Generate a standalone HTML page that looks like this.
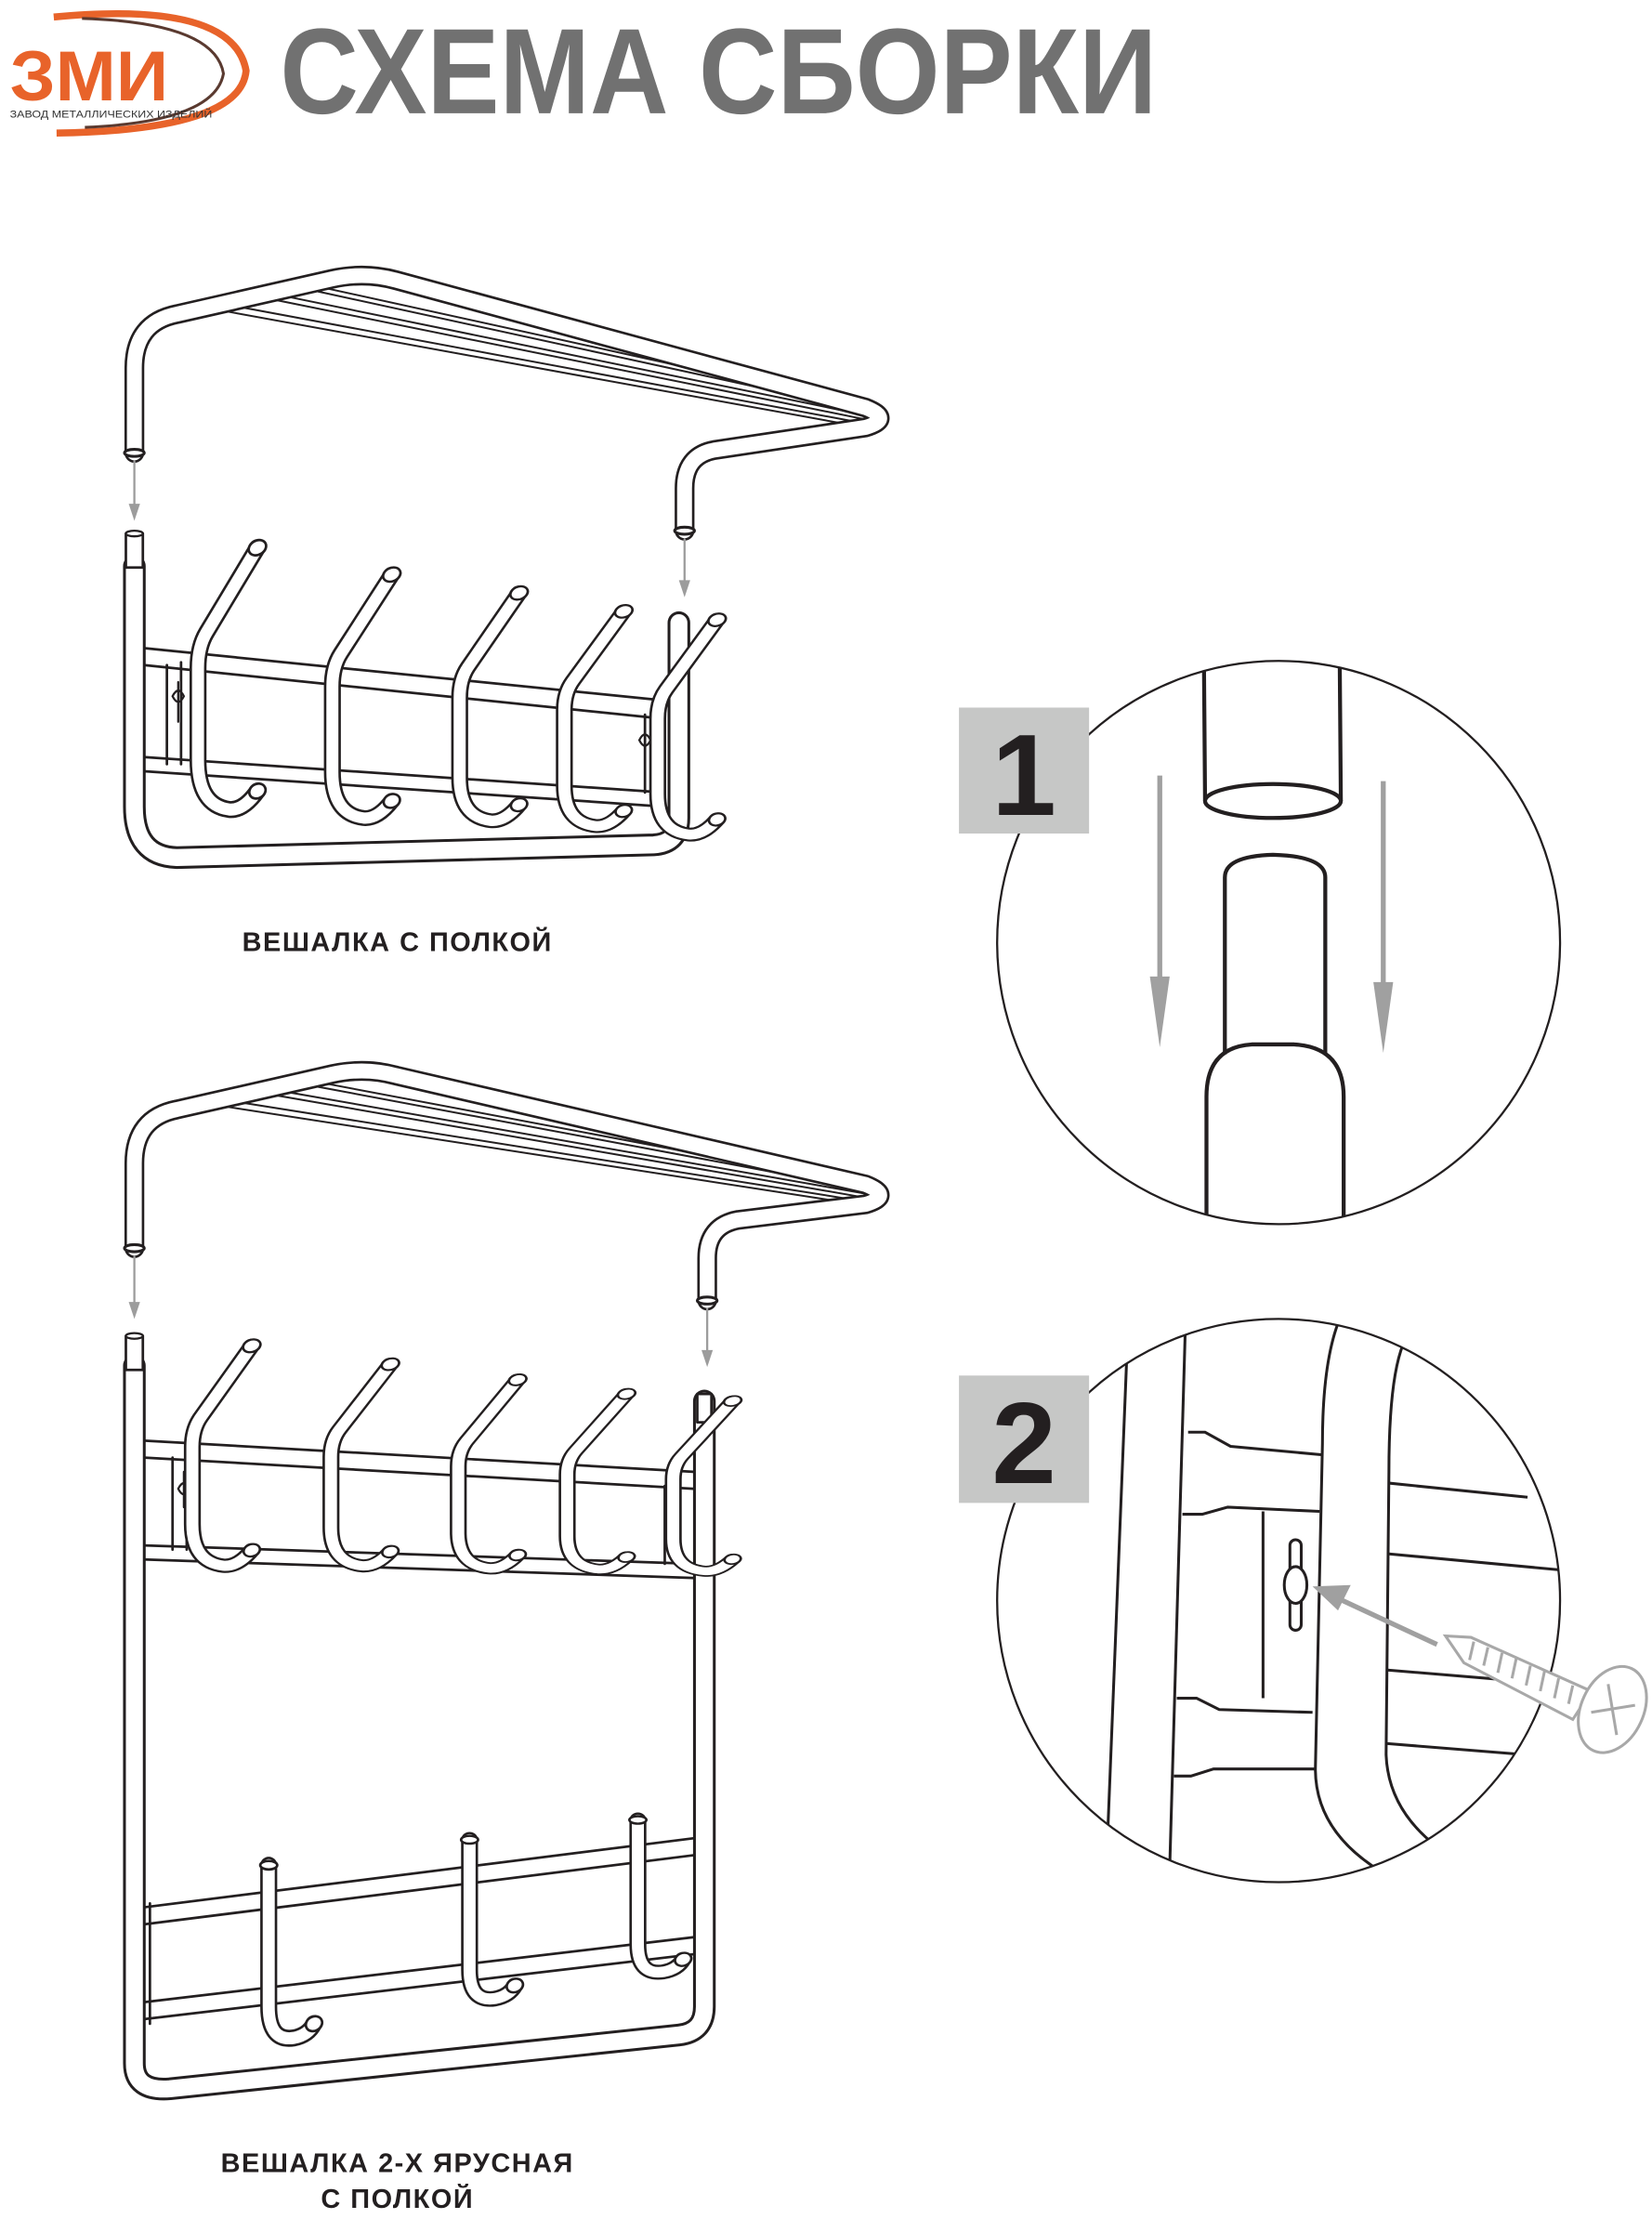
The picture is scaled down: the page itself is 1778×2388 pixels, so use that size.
<!DOCTYPE html>
<html><head><meta charset="utf-8"><style>
html,body{margin:0;padding:0;background:#fff;}
svg{display:block;}
</style></head><body>
<svg width="1778" height="2388" viewBox="0 0 1168 1568" preserveAspectRatio="none" xmlns="http://www.w3.org/2000/svg">
<defs>
<clipPath id="c1"><circle cx="904" cy="666" r="199"/></clipPath>
<clipPath id="c2"><circle cx="904" cy="1131" r="199"/></clipPath>
<g id="hk" fill="none" stroke-linecap="round" stroke-linejoin="round">
<path d="M0,0 L-36,60 Q-42,70 -42,85 L-42,150 Q-42,182 -20,185 Q-10,186 0,172" stroke="#231f20" stroke-width="12"/>
<path d="M0,0 L-36,60 Q-42,70 -42,85 L-42,150 Q-42,182 -20,185 Q-10,186 0,172" stroke="#fff" stroke-width="8.5"/>
<ellipse cx="0" cy="0" rx="6.5" ry="5" transform="rotate(-30)" fill="#fff" stroke="#231f20" stroke-width="1.8"/>
<ellipse cx="0" cy="172" rx="6" ry="5" transform="rotate(-30 0 172)" fill="#fff" stroke="#231f20" stroke-width="1.8"/>
</g>
<g id="lh" fill="none" stroke-linecap="round" stroke-linejoin="round">
<path d="M0,0 L0,100 Q0,125 18,122 Q28,120 32,112" stroke="#231f20" stroke-width="12"/>
<path d="M0,0 L0,100 Q0,125 18,122 Q28,120 32,112" stroke="#fff" stroke-width="8.5"/>
<ellipse cx="0" cy="0" rx="6" ry="3" fill="#fff" stroke="#231f20" stroke-width="1.8"/>
<ellipse cx="32" cy="112" rx="6" ry="5" transform="rotate(-30 32 112)" fill="#fff" stroke="#231f20" stroke-width="1.8"/>
</g>
</defs>
<rect width="1168" height="1568" fill="#fff"/>

<!-- Logo -->
<path d="M38,12 Q165,0 174,50 Q170,92 40,94" fill="none" stroke="#e8632a" stroke-width="5"/>
<path d="M58,13 Q152,16 158,52 Q152,86 60,90" fill="none" stroke="#5a3a30" stroke-width="2"/>
<text x="7" y="71" font-family="Liberation Sans, sans-serif" font-weight="bold" font-size="50" fill="#e8632a" textLength="112" lengthAdjust="spacingAndGlyphs">ЗМИ</text>
<text x="7" y="83" font-family="Liberation Sans, sans-serif" font-size="7" fill="#333" textLength="143" lengthAdjust="spacingAndGlyphs">ЗАВОД МЕТАЛЛИЧЕСКИХ ИЗДЕЛИЙ</text>

<!-- Title -->
<text x="198" y="80" font-family="Liberation Sans, sans-serif" font-weight="bold" font-size="86" fill="#717171" textLength="620" lengthAdjust="spacingAndGlyphs">СХЕМА СБОРКИ</text>

<g fill="none" stroke-linecap="round" stroke-linejoin="round">
<!-- ============ HANGER 1 ============ -->
<g stroke="#231f20" stroke-width="1.3">
<path d="M160,220 L600,300"/><path d="M170,217 L605,298"/>
<path d="M195,212 L610,296"/><path d="M205,210 L615,294"/>
<path d="M225,206 L620,292"/><path d="M232,204 L624,290"/>
</g>
<path d="M95,320 L95,260 Q95,228 125,222 L235,197 Q258,192 280,198 L612,288 Q632,296 612,302 L505,318 Q484,322 484,345 L484,375" stroke="#231f20" stroke-width="14"/>
<path d="M95,320 L95,260 Q95,228 125,222 L235,197 Q258,192 280,198 L612,288 Q632,296 612,302 L505,318 Q484,322 484,345 L484,375" stroke="#fff" stroke-width="10.5"/>
<ellipse cx="95" cy="320" rx="7" ry="2.5" stroke="#231f20" stroke-width="2" fill="#fff"/>
<ellipse cx="484" cy="375" rx="7" ry="2.5" stroke="#231f20" stroke-width="2" fill="#fff"/>
<line x1="95" y1="326" x2="95" y2="358" stroke="#9c9c9c" stroke-width="1.5"/>
<polygon points="91,356 99,356 95,368" fill="#9c9c9c"/>
<line x1="484" y1="381" x2="484" y2="412" stroke="#9c9c9c" stroke-width="1.5"/>
<polygon points="480,410 488,410 484,422" fill="#9c9c9c"/>

<g stroke="#231f20" stroke-width="1.8">
<path d="M102,458 L470,495"/><path d="M102,470 L470,508"/>
<path d="M102,535 L470,560"/><path d="M102,545 L470,570"/>
<path d="M118,470 L118,540"/><path d="M465,508 L465,565"/>
<path d="M128,468 L128,540"/><path d="M456,505 L456,560"/>
</g>
<path d="M126,482 l0,28 M122,492 q4,-8 8,0 q-4,8 -8,0" stroke="#231f20" stroke-width="1.5"/>
<path d="M456,515 l0,25 M452,523 q4,-8 8,0 q-4,8 -8,0" stroke="#231f20" stroke-width="1.5"/>

<path d="M95,400 L95,570 Q95,605 125,606 L462,597 Q480,596 480,578 L480,440" stroke="#231f20" stroke-width="16"/>
<path d="M95,400 L95,570 Q95,605 125,606 L462,597 Q480,596 480,578 L480,440" stroke="#fff" stroke-width="12"/>
<rect x="89" y="377" width="12" height="24" fill="#fff" stroke="#231f20" stroke-width="1.8"/>
<ellipse cx="95" cy="377" rx="6" ry="2" fill="#fff" stroke="#231f20" stroke-width="1.5"/>
</g>
<use href="#hk" transform="translate(182,387)"/>
<use href="#hk" transform="translate(277,406) scale(1,0.93)"/>
<use href="#hk" transform="translate(367,419) scale(1,0.87)"/>
<use href="#hk" transform="translate(441,432) scale(1,0.82)"/>
<use href="#hk" transform="translate(507,438) scale(1,0.82)"/>

<text x="281" y="672" text-anchor="middle" font-family="Liberation Sans, sans-serif" font-weight="bold" font-size="19" fill="#231f20" letter-spacing="1">ВЕШАЛКА С ПОЛКОЙ</text>
<text x="281" y="1535" text-anchor="middle" font-family="Liberation Sans, sans-serif" font-weight="bold" font-size="19" fill="#231f20" letter-spacing="1">ВЕШАЛКА 2-Х ЯРУСНАЯ</text>
<text x="281" y="1560" text-anchor="middle" font-family="Liberation Sans, sans-serif" font-weight="bold" font-size="19" fill="#231f20" letter-spacing="1">С ПОЛКОЙ</text>

<g fill="none" stroke-linecap="round" stroke-linejoin="round">
<!-- ============ HANGER 2 ============ -->
<g transform="translate(0,562)">
<g stroke="#231f20" stroke-width="1.3">
<path d="M160,220 L600,288"/><path d="M170,217 L605,286"/>
<path d="M195,212 L610,284"/><path d="M205,210 L615,282"/>
<path d="M225,206 L620,280"/><path d="M232,204 L624,278"/>
</g>
<path d="M95,320 L95,260 Q95,228 125,222 L235,197 Q258,192 280,198 L612,275 Q632,283 612,289 L522,300 Q500,304 500,327 L500,357" stroke="#231f20" stroke-width="14"/>
<path d="M95,320 L95,260 Q95,228 125,222 L235,197 Q258,192 280,198 L612,275 Q632,283 612,289 L522,300 Q500,304 500,327 L500,357" stroke="#fff" stroke-width="10.5"/>
<ellipse cx="95" cy="320" rx="7" ry="2.5" stroke="#231f20" stroke-width="2" fill="#fff"/>
<ellipse cx="500" cy="357" rx="7" ry="2.5" stroke="#231f20" stroke-width="2" fill="#fff"/>
<line x1="95" y1="326" x2="95" y2="360" stroke="#9c9c9c" stroke-width="1.5"/>
<polygon points="91,358 99,358 95,370" fill="#9c9c9c"/>
<line x1="500" y1="363" x2="500" y2="394" stroke="#9c9c9c" stroke-width="1.5"/>
<polygon points="496,392 504,392 500,404" fill="#9c9c9c"/>
</g>

<g stroke="#231f20" stroke-width="1.8">
<path d="M102,1018 L490,1040"/><path d="M102,1030 L490,1052"/>
<path d="M102,1092 L490,1105"/><path d="M102,1102 L490,1115"/>
<path d="M122,1030 L122,1095"/><path d="M132,1030 L132,1095"/>
<path d="M470,1050 L470,1105"/><path d="M480,1050 L480,1105"/>
</g>
<path d="M130,1040 l0,25 M126,1052 q4,-8 8,0 q-4,8 -8,0" stroke="#231f20" stroke-width="1.5"/>
<path d="M475,1060 l0,25 M471,1072 q4,-8 8,0 q-4,8 -8,0" stroke="#231f20" stroke-width="1.5"/>

<g stroke="#231f20" stroke-width="1.8">
<path d="M100,1348 L498,1298"/><path d="M100,1360 L498,1310"/>
<path d="M100,1415 L498,1368"/><path d="M100,1427 L498,1380"/>
<path d="M106,1345 L106,1430"/>
</g>

<path d="M95,965 L95,1458 Q95,1478 120,1476 L480,1438 Q498,1436 498,1418 L498,990" stroke="#231f20" stroke-width="16"/>
<path d="M95,965 L95,1458 Q95,1478 120,1476 L480,1438 Q498,1436 498,1418 L498,990" stroke="#fff" stroke-width="12"/>
<rect x="89" y="944" width="12" height="24" fill="#fff" stroke="#231f20" stroke-width="1.8"/>
<ellipse cx="95" cy="944" rx="6" ry="2" fill="#fff" stroke="#231f20" stroke-width="1.5"/>
<rect x="493" y="985" width="10" height="20" fill="#fff" stroke="#231f20" stroke-width="1.8"/>
</g>
<use href="#hk" transform="translate(178,951) scale(1,0.84)"/>
<use href="#hk" transform="translate(276,964) scale(1,0.77)"/>
<use href="#hk" transform="translate(366,975) scale(1,0.72)"/>
<use href="#hk" transform="translate(443,985) scale(1,0.67)"/>
<use href="#hk" transform="translate(518,990) scale(1,0.65)"/>

<use href="#lh" transform="translate(190,1318)"/>
<use href="#lh" transform="translate(332,1300) scale(1,0.92)"/>
<use href="#lh" transform="translate(451,1286) scale(1,0.88)"/>

<!-- ============ CIRCLE 1 ============ -->
<circle cx="904" cy="666" r="199" fill="#fff" stroke="#231f20" stroke-width="1.5"/>
<g clip-path="url(#c1)" fill="none" stroke="#231f20" stroke-width="2.8">
<path d="M851,440 L852,566 M947,440 L948,566"/>
<ellipse cx="900" cy="566" rx="48" ry="12" fill="#fff"/>
<path d="M866,745 L866,620 Q866,605 900,604 Q937,605 937,620 L937,745"/>
<path d="M853,900 L853,775 Q853,740 885,738 L915,738 Q950,740 950,775 L950,900"/>
</g>
<line x1="820" y1="548" x2="820" y2="700" stroke="#a0a0a0" stroke-width="3.5"/>
<polygon points="813,690 827,690 820,740" fill="#a0a0a0"/>
<line x1="978" y1="552" x2="978" y2="704" stroke="#a0a0a0" stroke-width="3.5"/>
<polygon points="971,694 985,694 978,744" fill="#a0a0a0"/>
<rect x="678" y="500" width="92" height="89" fill="#c6c7c6"/>
<text x="724" y="576" text-anchor="middle" font-family="Liberation Sans, sans-serif" font-weight="bold" font-size="82" fill="#231f20">1</text>

<!-- ============ CIRCLE 2 ============ -->
<circle cx="904" cy="1131" r="199" fill="#fff" stroke="#231f20" stroke-width="1.5"/>
<g clip-path="url(#c2)" fill="none" stroke="#231f20" stroke-width="2">
<path d="M797,950 L783,1300"/>
<path d="M838,940 L827,1320"/>
<path d="M840,1012 L852,1012 L870,1022 L935,1028"/>
<path d="M836,1070 L850,1070 L868,1065 L933,1068"/>
<path d="M893,1068 L893,1200"/>
<path d="M832,1200 L846,1200 L862,1208 L928,1210"/>
<path d="M830,1255 L842,1255 L858,1250 L930,1250"/>
<path d="M948,930 Q935,960 935,1020 L930,1250 Q930,1300 990,1330"/>
<path d="M992,950 Q982,975 982,1040 L980,1240 Q982,1290 1040,1320"/>
<path d="M982,1048 L1080,1058 M982,1098 L1110,1110"/>
<path d="M980,1180 L1100,1190 M980,1232 L1080,1240"/>
<rect x="912" y="1088" width="8" height="64" rx="4" fill="#fff"/>
<ellipse cx="916" cy="1120" rx="8" ry="13" fill="#fff"/>
</g>
<line x1="1016" y1="1162" x2="945" y2="1129" stroke="#a0a0a0" stroke-width="3.5"/>
<polygon points="928,1121 955,1120 946,1138" fill="#a0a0a0"/>
<g stroke="#a8a8a8" stroke-width="2" fill="#fff">
<path d="M1022,1156 L1040,1157 L1125,1195 L1112,1215 L1035,1175 Z"/>
<path d="M1042,1160 l-3,13 M1052,1164 l-3,13 M1062,1168 l-3,14 M1072,1172 l-3,14 M1082,1177 l-3,14 M1092,1181 l-3,14 M1102,1186 l-3,14 M1112,1191 l-3,13"/>
<ellipse cx="1140" cy="1208" rx="22" ry="32" transform="rotate(25 1140 1208)"/>
<path d="M1137,1190 L1143,1226 M1125,1210 L1156,1205"/>
</g>
<rect x="678" y="972" width="92" height="90" fill="#c6c7c6"/>
<text x="724" y="1048" text-anchor="middle" font-family="Liberation Sans, sans-serif" font-weight="bold" font-size="82" fill="#231f20">2</text>
</svg>
</body></html>
